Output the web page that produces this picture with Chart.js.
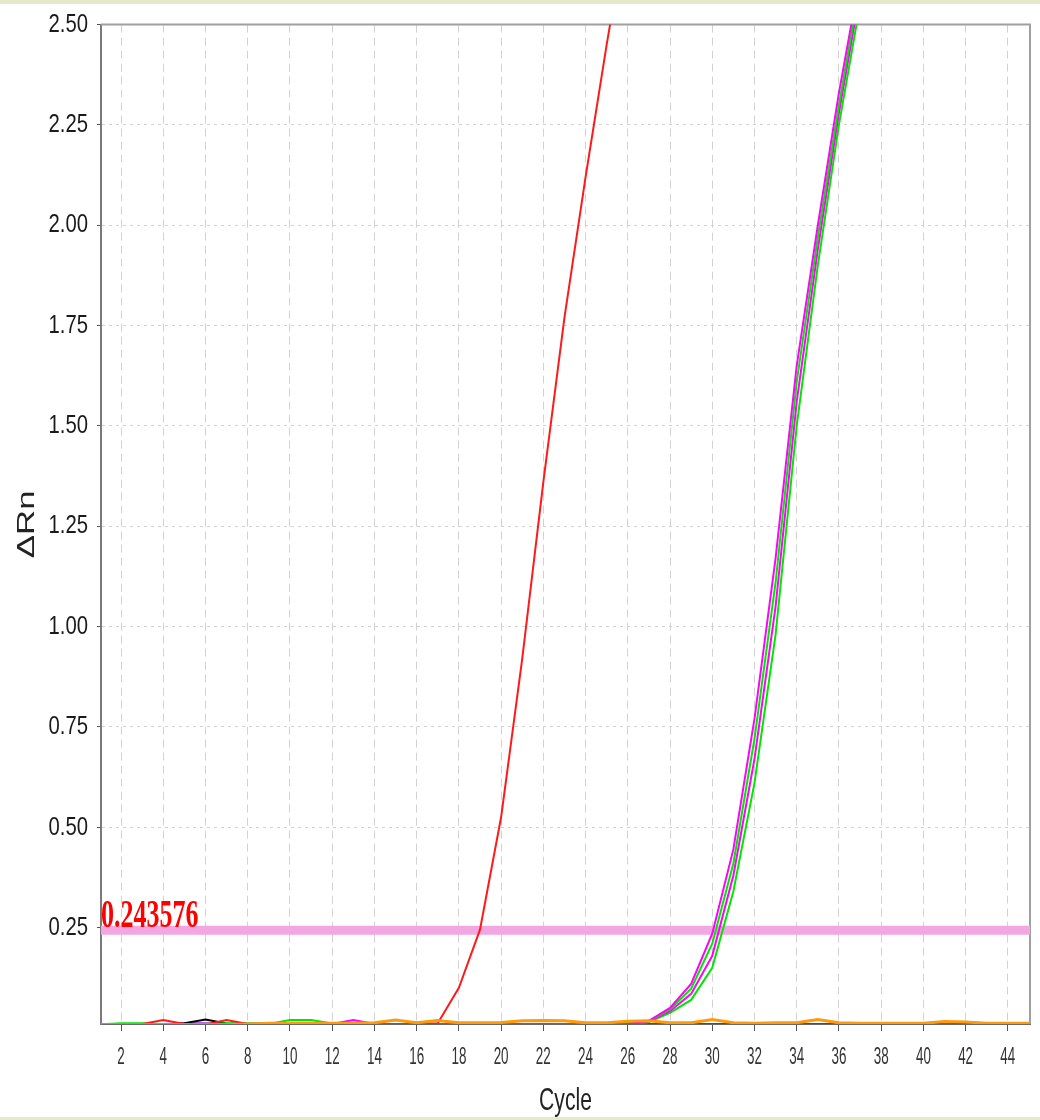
<!DOCTYPE html>
<html><head><meta charset="utf-8">
<script src="https://cdn.jsdelivr.net/npm/chart.js@4/dist/chart.umd.min.js"></script>
<style>
html,body{margin:0;padding:0;background:#fff;}
#wrap{position:relative;width:1040px;height:1120px;overflow:hidden;background:#fff;}
#c{position:absolute;left:0;top:0;width:1040px;height:1120px;}
.strip{position:absolute;left:0;width:1040px;background:#e6e9cc;z-index:2;}
</style></head><body>
<div id="wrap"><canvas id="c" width="1040" height="1120"></canvas>
<div class="strip" style="top:0;height:4px"></div>
<div class="strip" style="top:1117px;height:3px"></div></div>
<script>
const cycles = [1,2,3,4,5,6,7,8,9,10,11,12,13,14,15,16,17,18,19,20,21,22,23,24,25,26,27,28,29,30,31,32,33,34,35,36,37,38,39,40,41,42,43,44,45];
const xTickValues = [2,4,6,8,10,12,14,16,18,20,22,24,26,28,30,32,34,36,38,40,42,44];
const yTickValues = [0.25,0.5,0.75,1.0,1.25,1.5,1.75,2.0,2.25,2.5];
const xMin = 1.05, xMax = 45.05, yMin = 0.01, yMax = 2.5;
const threshold = 0.243576;

const redCurve = [0.009,0.009,0.010,0.020,0.010,0.009,0.020,0.010,0.009,0.009,0.009,0.009,0.009,0.009,0.009,0.010,0.012,0.100,0.245,0.525,0.92,1.36,1.77,2.12,2.45,2.76,
  null,null,null,null,null,null,null,null,null,null,null,null,null,null,null,null,null,null,null];
const magentaA = [0.010,0.010,0.010,0.010,0.010,0.010,0.010,0.010,0.010,0.010,0.010,0.010,0.020,0.010,0.010,0.010,0.010,0.010,0.010,0.010,0.010,0.010,0.010,0.010,0.010,0.010,
  0.018,0.05,0.11,0.235,0.445,0.77,1.17,1.65,2.0,2.33,2.62,null,null,null,null,null,null,null,null];
const greenA = [0.009,0.012,0.012,0.010,0.010,0.010,0.012,0.012,0.010,0.020,0.020,0.011,0.010,0.010,0.010,0.010,0.010,0.010,0.010,0.010,0.010,0.010,0.010,0.010,0.010,0.014,
  0.017,0.046,0.098,0.21,0.41,0.72,1.11,1.61,1.97,2.30,2.60,null,null,null,null,null,null,null,null];
const magentaB = [0.009,0.009,0.009,0.009,0.009,0.009,0.009,0.009,0.009,0.009,0.009,0.009,0.009,0.009,0.009,0.009,0.009,0.009,0.009,0.009,0.009,0.009,0.009,0.009,0.009,0.009,
  0.016,0.042,0.085,0.18,0.38,0.67,1.05,1.56,1.94,2.28,2.58,null,null,null,null,null,null,null,null];
const greenB = [0.009,0.009,0.009,0.009,0.009,0.009,0.009,0.009,0.009,0.009,0.009,0.009,0.009,0.009,0.009,0.009,0.009,0.009,0.009,0.009,0.009,0.009,0.009,0.009,0.009,0.009,
  0.015,0.038,0.07,0.15,0.34,0.61,0.98,1.5,1.9,2.25,2.55,null,null,null,null,null,null,null,null];
const orangeBase = [0.008,0.008,0.008,0.008,0.008,0.008,0.008,0.010,0.012,0.012,0.012,0.012,0.012,0.013,0.020,0.013,0.019,0.013,0.013,0.014,0.018,0.019,0.018,0.013,0.013,0.017,0.018,0.013,0.013,0.021,0.013,0.012,0.013,0.013,0.021,0.013,0.012,0.012,0.012,0.012,0.016,0.015,0.012,0.012,0.012];
const blackBase = [0.008,0.008,0.008,0.009,0.012,0.021,0.011,0.009,0.008,0.008,0.008,0.008,0.008,0.008,0.008,0.008,0.008,0.008,0.008,0.008,0.008,0.008,0.008,0.008,0.008,0.008,0.008,0.008,0.008,0.008,0.008,0.008,0.008,0.008,0.008,0.008,0.008,0.008,0.008,0.008,0.008,0.008,0.008,0.008,0.008];
const purpleBase = [0.008,0.009,0.009,0.010,0.012,0.012,0.010,0.011,0.012,0.009,0.008,0.008,0.008,0.008,0.008,0.008,0.008,0.008,0.008,0.008,0.008,0.008,0.008,0.008,0.008,0.008,0.008,0.008,0.008,0.008,0.008,0.008,0.008,0.008,0.008,0.008,0.008,0.008,0.008,0.008,0.008,0.008,0.008,0.008,0.008];

const SANS = "'Liberation Sans',Arial,sans-serif";
// horizontal squash factors per font size, to mimic the narrow lettering of the original
const SQUASH = {'26': [0.78, 1], '24': [0.56, 1], '32': [0.66, 1], '29': [1.2, 0.8]};

function line(label, data, color, width) {
  return {label, data, borderColor: color, backgroundColor: color, borderWidth: width,
    pointRadius: 0, pointHoverRadius: 0, tension: 0, fill: false, spanGaps: false};
}

const textSquash = {
  id: 'textSquash',
  beforeDraw(chart) {
    const ctx = chart.ctx;
    if (ctx._squashed) return;
    const orig = ctx.fillText.bind(ctx);
    ctx.fillText = function (text, x, y, maxWidth) {
      const m = /(\d+)px/.exec(this.font);
      const f = m ? SQUASH[m[1]] : null;
      if (!f) return maxWidth === undefined ? orig(text, x, y) : orig(text, x, y, maxWidth);
      this.save();
      this.translate(x, y);
      this.scale(f[0], f[1]);
      orig(text, 0, 0);
      this.restore();
    };
    ctx._squashed = true;
  }
};

const framePlugin = {
  id: 'frame',
  beforeDatasetsDraw(chart) {
    const {ctx, chartArea: a} = chart;
    ctx.save();
    ctx.strokeStyle = '#a0a0a0';
    ctx.lineWidth = 2;
    ctx.beginPath();
    ctx.moveTo(a.left, a.top);
    ctx.lineTo(a.right, a.top);
    ctx.lineTo(a.right, a.bottom);
    ctx.stroke();
    ctx.restore();
  }
};

const thresholdLabel = {
  id: 'thresholdLabel',
  afterDatasetsDraw(chart) {
    const {ctx, chartArea: a, scales} = chart;
    const yPix = scales.y.getPixelForValue(threshold);
    ctx.save();
    ctx.translate(a.left, yPix - 3);
    ctx.scale(0.65, 1);
    ctx.font = "bold 40px 'Liberation Serif','Times New Roman',serif";
    ctx.fillStyle = '#ff0000';
    ctx.textBaseline = 'alphabetic';
    ctx.textAlign = 'left';
    ctx.fillText(String(threshold), 0, 0);
    ctx.restore();
  }
};

new Chart(document.getElementById('c'), {
  type: 'line',
  data: {
    labels: cycles,
    datasets: [
      line('Orange', orangeBase, '#ff9a0a', 3),
      line('Red', redCurve, '#ff1a1a', 2),
      line('Magenta 1', magentaA, '#ff00ff', 2),
      line('Green 1', greenA, '#00e600', 2),
      line('Magenta 2', magentaB, '#ff00ff', 2),
      line('Green 2', greenB, '#00e600', 2),
      line('Black', blackBase, '#000000', 2),
      line('Purple', purpleBase, '#9b30d0', 2),
      line('Threshold', [{x: xMin, y: threshold}, {x: xMax, y: threshold}], '#f2a6e2', 9)
    ]
  },
  options: {
    responsive: false,
    animation: false,
    events: [],
    layout: {padding: {top: 22, right: 10, left: 0, bottom: 0}},
    plugins: {legend: {display: false}, tooltip: {enabled: false}},
    scales: {
      x: {
        type: 'linear', min: xMin, max: xMax,
        afterBuildTicks: s => { s.ticks = xTickValues.map(v => ({value: v})); },
        afterFit: s => { s.height = 96; },
        grid: {color: '#d2d2d2', lineWidth: 1, tickLength: 7, tickColor: '#555', tickBorderDash: [], tickWidth: 1},
        border: {display: true, color: '#6a6a6a', width: 2, dash: [8, 5]},
        ticks: {autoSkip: false, maxRotation: 0, padding: 12, color: '#333',
          font: {family: SANS, size: 24}, callback: v => String(v)},
        title: {display: true, text: 'Cycle', color: '#222',
          font: {family: SANS, size: 32}, padding: {top: 0, bottom: 0}}
      },
      y: {
        type: 'linear', min: yMin, max: yMax,
        afterBuildTicks: s => { s.ticks = yTickValues.map(v => ({value: v})); },
        afterFit: s => { s.width = 101; },
        grid: {color: '#d2d2d2', lineWidth: 1, tickLength: 4, tickColor: '#555', tickBorderDash: [], tickWidth: 1},
        border: {display: true, color: '#7a7a7a', width: 2, dash: [3, 4]},
        ticks: {padding: 9, color: '#1a1a1a', font: {family: SANS, size: 26},
          callback: v => Number(v).toFixed(2)},
        title: {display: true, text: 'ΔRn', color: '#222',
          font: {family: SANS, size: 29}, padding: {top: 10, bottom: 0}}
      }
    }
  },
  plugins: [textSquash, framePlugin, thresholdLabel]
});
</script>
</body></html>
